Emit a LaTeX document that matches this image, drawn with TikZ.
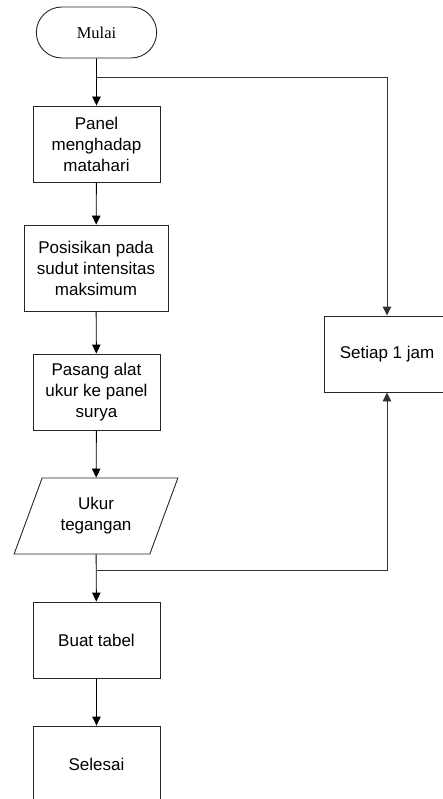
\documentclass[tikz,border=0pt]{standalone}
\usepackage{fontspec}
\setmainfont{Liberation Sans}
\newfontfamily\serifface{Liberation Serif}
\usetikzlibrary{positioning, shapes.geometric, shapes.misc, arrows.meta}

\begin{document}
\begin{tikzpicture}[
  x=1pt, y=-1pt,
  >={Triangle[width=8.5pt, length=9pt]},
  every node/.style={font=\fontsize{17}{21}\selectfont, align=center},
  process/.style={draw=black!85, line width=0.9pt, rectangle,
                  minimum width=127pt, minimum height=76pt, inner sep=2pt},
  flow/.style={->, line width=0.9pt, black}
]
\useasboundingbox (0, 0) rectangle (443, 799);
\clip (0, 0) rectangle (443, 799);

% ---- START ----
\node[draw=black!85, line width=0.9pt, rounded rectangle,
      minimum width=127pt, minimum height=51pt,
      font=\serifface\fontsize{16.5}{20}\selectfont] (mulai) at (96.5, 32.5) {Mulai};

% ---- MAIN COLUMN ----
\node[process] (panel) at (96.5, 144) {Panel\\menghadap\\matahari};
\node[process, minimum width=144pt, minimum height=86pt]
  (posisi) at (96, 268) {Posisikan pada\\sudut intensitas\\maksimum};
\node[process] (pasang) at (96.5, 392) {Pasang alat\\ukur ke panel\\surya};
\node[draw=black!85, line width=0.9pt, trapezium,
      trapezium left angle=63.4, trapezium right angle=116.6,
      trapezium stretches=true,
      minimum width=164pt, minimum height=76pt, inner sep=0pt]
  (ukur) at (96, 516) {Ukur\\tegangan};
\node[process] (buat) at (96.5, 640) {Buat tabel};
\node[process] (selesai) at (96.5, 764) {Selesai};

% ---- LOOP ----
\node[process, minimum width=126pt] (setiap) at (387, 354) {Setiap 1 jam};
\coordinate (split) at (96.5, 77);
\coordinate (merge) at (96.5, 570);

% ---- ARROWS ----
\draw[flow] (mulai) -- (panel);
\draw[flow] (panel) -- (posisi);
\draw[flow] (posisi) -- (pasang);
\draw[flow] (pasang) -- (ukur);
\draw[flow] (ukur) -- (buat);
\draw[flow] (buat) -- (selesai);
\draw[flow, black!80] (split) -| (setiap.north);
\draw[flow, black!80] (merge) -| (setiap.south);

\end{tikzpicture}
\end{document}
